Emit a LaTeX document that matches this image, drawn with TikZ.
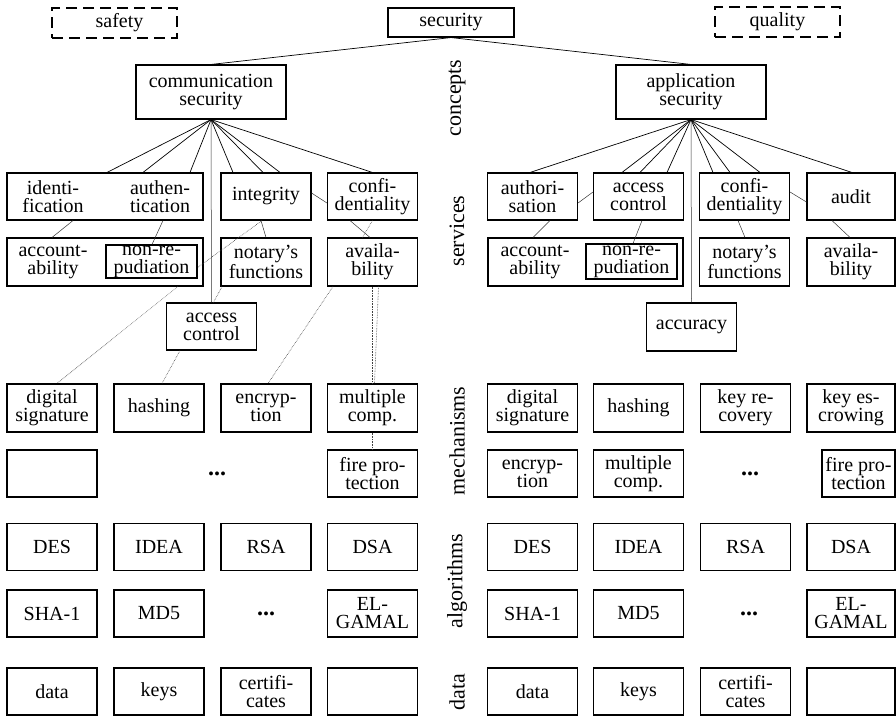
\documentclass[tikz,border=0pt]{standalone}
\usepackage{fontspec}
\setmainfont{Liberation Serif}
\begin{document}
\begin{tikzpicture}[x=1pt,y=-1pt,
  every node/.style={font=\fontsize{20}{18}\selectfont, inner sep=0pt, align=center},
  box/.style={draw, line width=1.1pt, minimum width=90pt, minimum height=47pt},
  dbox/.style={draw, line width=1.6pt, dash pattern=on 11pt off 6pt, minimum width=125pt, minimum height=30pt},
  link/.style={line width=0.7pt},
  vlink/.style={line width=0.5pt, black!80},
  dlink/.style={line width=0.6pt, densely dotted, black!75},
  dots/.style={font=\fontsize{24}{24}\selectfont\bfseries},
  lab/.style={rotate=90, font=\fontsize{22}{22}\selectfont}]
\useasboundingbox (0,0) rectangle (896,716);

% top
\node[dbox] (safety) at (114.5,23) {\hspace*{10pt}safety};
\node[box, minimum width=126pt, minimum height=29pt] (security) at (451,22.5) {security};
\node[dbox] (quality) at (777.5,22) {quality};
\node[box, minimum width=150pt, minimum height=54pt] (comm) at (211,92) {communication\\security};
\node[box, minimum width=150pt, minimum height=54pt] (app) at (691,92) {application\\security};

% layer labels
\node[lab] (lconcepts) at (457,98) {concepts};
\node[lab] (lservices) at (457,231) {services};
\node[lab] (lmech) at (457,441) {mechanisms};
\node[lab] (lalg) at (457,581) {algorithms};
\node[lab] (ldata) at (457,692) {data};

% services left
\node[box, minimum width=196pt] (identauth) at (105,196.5) {};
\node (ident) at (53,196.5) {identi-\\fication};
\node (authen) at (160,196.5) {authen-\\tication};
\node[box] (integrity) at (266,196.5) {integrity};
\node[box] (confL) at (372.5,196.5) {confi-\\dentiality};
\node[box, minimum width=196pt, minimum height=48pt] (accbigL) at (105,262) {};
\node (accL) at (53,262) {account-\\ability};
\node[box, minimum width=91pt, minimum height=33pt] (nonrepL) at (151.5,261.5) {non-re-\\pudiation};
\node[box, minimum height=48pt] (notaryL) at (266,262) {notary's\\functions};
\node[box, minimum height=48pt] (availL) at (372.5,262) {availa-\\bility};
\node[box] (accessL) at (211.5,326.5) {access\\control};

% services right
\node[box] (authR) at (532.5,196.5) {authori-\\sation};
\node[box] (accessR) at (638.5,196.5) {access\\control};
\node[box] (confR) at (744.5,196.5) {confi-\\dentiality};
\node[box, minimum width=88pt] (auditR) at (851,196.5) {audit};
\node[box, minimum width=195pt, minimum height=48pt] (accbigR) at (585.5,262) {};
\node (accR) at (535,262) {account-\\ability};
\node[box, minimum width=91pt, minimum height=35pt] (nonrepR) at (631.5,261.5) {non-re-\\pudiation};
\node[box, minimum height=48pt] (notaryR) at (744.5,262) {notary's\\functions};
\node[box, minimum width=88pt, minimum height=48pt] (availR) at (851,262) {availa-\\bility};
\node[box, minimum height=48pt] (accuracy) at (691.5,327) {accuracy};

% mechanisms left
\node[box, minimum height=48pt] (dsL) at (52,408) {digital\\signature};
\node[box, minimum height=48pt] (hashL) at (159,408) {hashing};
\node[box, minimum height=48pt] (encL) at (266,408) {encryp-\\tion};
\node[box, minimum height=48pt] (multL) at (372.5,408) {multiple\\comp.};
\node[box] (emptyL) at (52,473.5) {};
\node[dots] (dotsmL) at (217,473.5) {...};
\node[box] (fireL) at (372.5,473.5) {fire pro-\\tection};

% mechanisms right
\node[box, minimum height=48pt] (dsR) at (532.5,408) {digital\\signature};
\node[box, minimum height=48pt] (hashR) at (638.5,408) {hashing};
\node[box, minimum height=48pt] (keyrec) at (745.5,408) {key re-\\covery};
\node[box, minimum width=88pt, minimum height=48pt] (keyesc) at (851,408) {key es-\\crowing};
\node[box] (encR) at (532.5,473.5) {encryp-\\tion};
\node[box] (multR) at (638.5,473.5) {multiple\\comp.};
\node[dots] (dotsmR) at (750,473.5) {...};
\node[box, minimum width=73pt] (fireR) at (858.5,473.5) {fire pro-\\tection};

% algorithms left
\node[box] (desL) at (52,547) {DES};
\node[box] (ideaL) at (159,547) {IDEA};
\node[box] (rsaL) at (266,547) {RSA};
\node[box] (dsaL) at (372.5,547) {DSA};
\node[box] (shaL) at (52,613.5) {SHA-1};
\node[box] (mdL) at (159,613.5) {MD5};
\node[dots] (dotsaL) at (266,613.5) {...};
\node[box] (elgL) at (372.5,613.5) {EL-\\GAMAL};

% algorithms right
\node[box] (desR) at (532.5,547) {DES};
\node[box] (ideaR) at (638.5,547) {IDEA};
\node[box] (rsaR) at (745.5,547) {RSA};
\node[box, minimum width=88pt] (dsaR) at (851,547) {DSA};
\node[box] (shaR) at (532.5,613.5) {SHA-1};
\node[box] (mdR) at (638.5,613.5) {MD5};
\node[dots] (dotsaR) at (749,613.5) {...};
\node[box, minimum width=88pt] (elgR) at (851,613.5) {EL-\\GAMAL};

% data
\node[box] (dataL) at (52,691.5) {data};
\node[box] (keysL) at (159,691.5) {keys};
\node[box] (certL) at (266,691.5) {certifi-\\cates};
\node[box] (emptyDL) at (372.5,691.5) {};
\node[box] (dataR) at (532.5,691.5) {data};
\node[box] (keysR) at (638.5,691.5) {keys};
\node[box] (certR) at (745.5,691.5) {certifi-\\cates};
\node[box, minimum width=88pt] (emptyDR) at (851,691.5) {};

% top links
\draw[link] (security.south) -- (comm.north);
\draw[link] (security.south) -- (app.north);

% left fan
\draw[link] (comm.south) -- ([xshift=2pt]identauth.north);
\draw[link] (comm.south) -- ([xshift=38pt]identauth.north);
\draw[link] (comm.south) -- ([xshift=85pt]identauth.north);
\draw[vlink] (comm.south) -- (accessL.north);
\draw[link] (comm.south) -- ([xshift=-33pt]integrity.north);
\draw[link] (comm.south) -- ([xshift=-3pt]integrity.north);
\draw[link] (comm.south) -- ([xshift=14pt]integrity.north);
\draw[link] (comm.south) -- (confL.north);

% right fan
\draw[link] (app.south) -- ([xshift=-2.5pt]authR.north);
\draw[link] (app.south) -- ([xshift=-16.5pt]accessR.north);
\draw[link] (app.south) -- ([xshift=1.5pt]accessR.north);
\draw[link] (app.south) -- ([xshift=28.5pt]accessR.north);
\draw[vlink] (app.south) -- (accuracy.north);
\draw[link] (app.south) -- ([xshift=-31.5pt]confR.north);
\draw[link] (app.south) -- ([xshift=-14.5pt]confR.north);
\draw[link] (app.south) -- ([xshift=15.5pt]confR.north);
\draw[link] (app.south) -- ([xshift=1pt]auditR.north);

% service links left
\draw[vlink] ([xshift=-32pt]identauth.south) -- ([xshift=-53pt]accbigL.north);
\draw[vlink] ([xshift=58pt]identauth.south) -- ([xshift=0.5pt]nonrepL.north);
\draw[vlink] ([yshift=3.5pt]integrity.east) -- ([yshift=-6.5pt]confL.west);
\draw[vlink] ([xshift=-5pt]integrity.south) -- (notaryL.north);
\draw[dlink] ([xshift=-4pt]integrity.south) -- ([yshift=-6pt]nonrepL.east);
\draw[vlink] ([xshift=-22.5pt]confL.south) -- ([xshift=-2.5pt]availL.north);
\draw[dlink] (confL.south) -- ([xshift=-10pt]availL.north);

% dotted links to mechanisms
\draw[dlink] ([xshift=73pt]accbigL.south) -- ([xshift=5pt]dsL.north);
\draw[dlink] ([xshift=-44pt]notaryL.south) -- ([xshift=2pt]accessL.north);
\draw[dlink] ([xshift=-31.5pt]accessL.south) -- ([xshift=3pt]hashL.north);
\draw[dlink] ([xshift=-39.5pt]availL.south) -- ([xshift=2pt]encL.north);
\draw[dlink] (availL.south) -- (multL.north);
\draw[dlink] ([xshift=6pt]availL.south) -- ([xshift=2pt]multL.north);
\draw[dlink] (multL.south) -- (fireL.north);

% service links right
\draw[vlink] ([yshift=-6.5pt]authR.east) -- ([yshift=4.5pt]accessR.west);
\draw[vlink] ([xshift=17.5pt]authR.south) -- ([xshift=-52.5pt]accbigR.north);
\draw[vlink] ([xshift=3.5pt]accessR.south) -- ([xshift=1.5pt]nonrepR.north);
\draw[vlink] ([xshift=-6.5pt]confR.south) -- ([xshift=0.5pt]notaryR.north);
\draw[vlink] ([yshift=4.5pt]confR.east) -- ([yshift=-5.5pt]auditR.west);
\draw[vlink] ([xshift=-19pt]auditR.south) -- ([xshift=-1pt]availR.north);
\end{tikzpicture}
\end{document}
